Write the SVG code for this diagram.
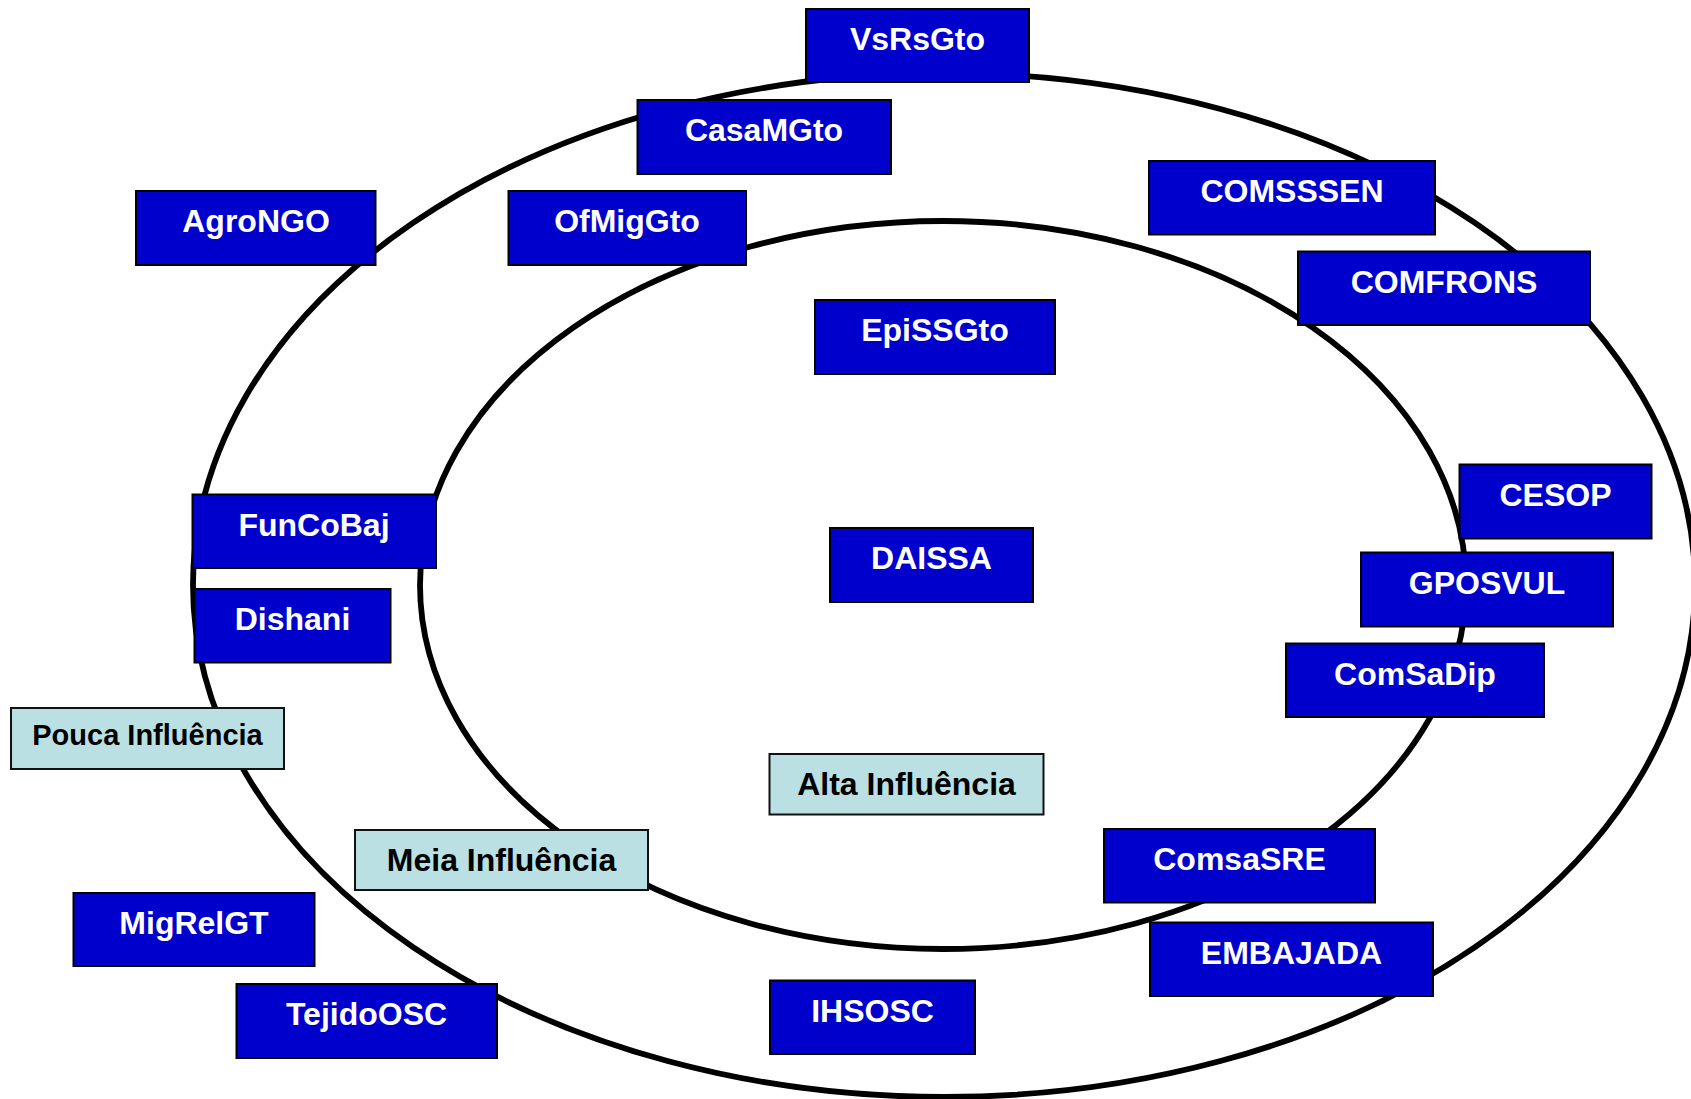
<svg xmlns="http://www.w3.org/2000/svg" width="1691" height="1099" viewBox="0 0 1691 1099">
<style>
.ring{fill:none;stroke:#000;stroke-width:5.8}
.n rect{fill:#0000CC;stroke:#000;stroke-width:2}
.n text{fill:#fff;font-family:"Liberation Sans",Arial,sans-serif;font-weight:bold;font-size:32px;text-anchor:middle}
.l rect{fill:#BBE0E3;stroke:#111;stroke-width:2}
.l text{fill:#000;font-family:"Liberation Sans",Arial,sans-serif;font-weight:bold;font-size:32px;text-anchor:middle}
</style>
<rect width="1691" height="1099" fill="#fff"/>
<g id="rings">
<ellipse class="ring" cx="944" cy="585" rx="751" ry="512"/>
<ellipse class="ring" cx="943" cy="585" rx="523" ry="364"/>
</g>
<g id="VsRsGto" class="n"><rect x="806" y="9" width="223" height="73"/><text x="917.5" y="50">VsRsGto</text></g>
<g id="CasaMGto" class="n"><rect x="637.5" y="100" width="253.5" height="74"/><text x="764" y="141">CasaMGto</text></g>
<g id="AgroNGO" class="n"><rect x="136" y="191" width="239.5" height="74"/><text x="256" y="232">AgroNGO</text></g>
<g id="OfMigGto" class="n"><rect x="508.5" y="191" width="237.5" height="74"/><text x="627" y="232">OfMigGto</text></g>
<g id="COMSSSEN" class="n"><rect x="1149" y="161" width="286" height="73.5"/><text x="1292" y="202">COMSSSEN</text></g>
<g id="COMFRONS" class="n"><rect x="1298" y="251.5" width="292" height="73.5"/><text x="1444" y="292.5">COMFRONS</text></g>
<g id="EpiSSGto" class="n"><rect x="815" y="300" width="240" height="74"/><text x="935" y="341">EpiSSGto</text></g>
<g id="CESOP" class="n"><rect x="1459.5" y="464.5" width="192" height="74"/><text x="1555.5" y="505.5">CESOP</text></g>
<g id="FunCoBaj" class="n"><rect x="192.5" y="494.5" width="243.5" height="73.5"/><text x="314" y="535.5">FunCoBaj</text></g>
<g id="DAISSA" class="n"><rect x="830" y="528" width="203" height="74"/><text x="931.5" y="569">DAISSA</text></g>
<g id="GPOSVUL" class="n"><rect x="1361" y="552.5" width="252" height="74"/><text x="1487" y="593.5">GPOSVUL</text></g>
<g id="Dishani" class="n"><rect x="194.5" y="589" width="196" height="73.5"/><text x="292.5" y="630">Dishani</text></g>
<g id="ComSaDip" class="n"><rect x="1286" y="643.5" width="258" height="73.5"/><text x="1415" y="684.5">ComSaDip</text></g>
<g id="PoucaInfluencia" class="l"><rect x="11" y="708" width="273" height="61"/><text x="147.5" y="745" style="font-size:29px">Pouca Influência</text></g>
<g id="AltaInfluencia" class="l"><rect x="769.5" y="754" width="274" height="60.5"/><text x="906.5" y="794.5">Alta Influência</text></g>
<g id="ComsaSRE" class="n"><rect x="1104" y="829" width="271" height="73.5"/><text x="1239.5" y="870">ComsaSRE</text></g>
<g id="MeiaInfluencia" class="l"><rect x="355" y="830" width="293" height="60"/><text x="501.5" y="870.5">Meia Influência</text></g>
<g id="MigRelGT" class="n"><rect x="73.5" y="893" width="241" height="73"/><text x="194" y="934">MigRelGT</text></g>
<g id="EMBAJADA" class="n"><rect x="1150" y="922.5" width="283" height="73.5"/><text x="1291.5" y="963.5">EMBAJADA</text></g>
<g id="IHSOSC" class="n"><rect x="770" y="980.5" width="205" height="73.5"/><text x="872.5" y="1021.5">IHSOSC</text></g>
<g id="TejidoOSC" class="n"><rect x="236.5" y="984" width="260.5" height="74"/><text x="366.5" y="1025">TejidoOSC</text></g>
</svg>
